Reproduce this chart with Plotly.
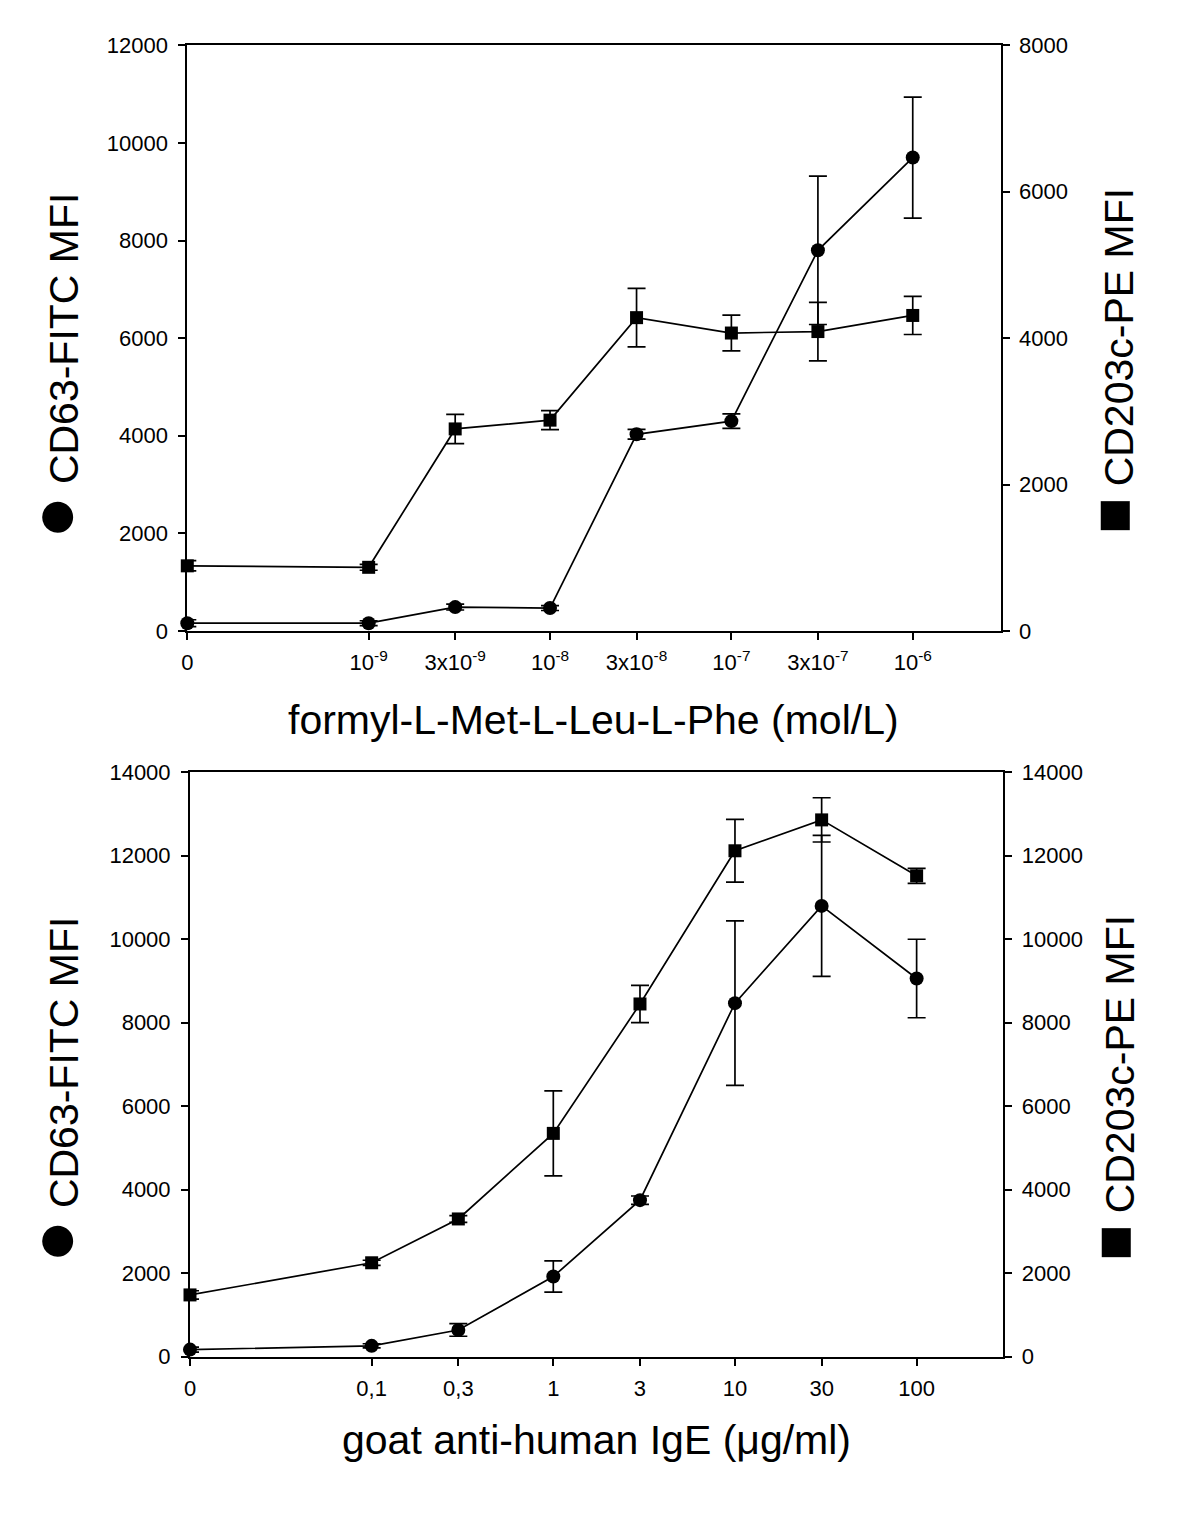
import math
import plotly.graph_objects as go

# ---------------- data ----------------
fmlp_conc = [0, 1e-9, 3e-9, 1e-8, 3e-8, 1e-7, 3e-7, 1e-6]
fmlp_ticktext = ["0", "10<sup>-9</sup>", "3x10<sup>-9</sup>", "10<sup>-8</sup>",
                 "3x10<sup>-8</sup>", "10<sup>-7</sup>", "3x10<sup>-7</sup>", "10<sup>-6</sup>"]
fmlp_cd63 = [160, 160, 490, 470, 4030, 4300, 7800, 9700]
fmlp_cd63_err = [70, 50, 60, 50, 100, 150, 1520, 1240]
fmlp_cd203c = [890, 870, 2760, 2880, 4280, 4070, 4090, 4310]
fmlp_cd203c_err = [70, 40, 200, 130, 400, 245, 400, 260]

ige_conc = [0, 0.1, 0.3, 1, 3, 10, 30, 100]
ige_ticktext = ["0", "0,1", "0,3", "1", "3", "10", "30", "100"]
ige_cd63 = [170, 260, 640, 1920, 3750, 8470, 10800, 9060]
ige_cd63_err = [60, 50, 150, 375, 100, 1970, 1690, 940]
ige_cd203c = [1480, 2250, 3300, 5350, 8450, 12120, 12860, 11520]
ige_cd203c_err = [100, 60, 80, 1020, 445, 750, 530, 180]

# position used to show the "0" concentration on the log axis
fmlp_zero_pos = 1e-10
ige_zero_pos = 1e-2

FONT = "Liberation Sans, Arial, sans-serif"


def xpos(conc, zero_pos):
    return [zero_pos if c == 0 else c for c in conc]


fmlp_x = xpos(fmlp_conc, fmlp_zero_pos)
ige_x = xpos(ige_conc, ige_zero_pos)

fig = go.Figure()


def add_series(x, y, err, xaxis, yaxis, symbol, size):
    fig.add_trace(go.Scatter(
        x=x, y=y, xaxis=xaxis, yaxis=yaxis, mode="lines+markers",
        line=dict(color="black", width=1.7),
        marker=dict(symbol=symbol, size=size, color="black"),
        error_y=dict(type="data", array=err, visible=True, color="black",
                     thickness=1.7, width=9),
        showlegend=False, cliponaxis=False,
    ))


add_series(fmlp_x, fmlp_cd63, fmlp_cd63_err, "x", "y", "circle", 14)
add_series(fmlp_x, fmlp_cd203c, fmlp_cd203c_err, "x", "y2", "square", 13)
add_series(ige_x, ige_cd63, ige_cd63_err, "x2", "y3", "circle", 14)
add_series(ige_x, ige_cd203c, ige_cd203c_err, "x2", "y4", "square", 13)

W, H = 1200, 1519

tickfont = dict(family=FONT, size=22, color="black")
common_axis = dict(showline=True, linecolor="black", linewidth=2, ticks="outside",
                   ticklen=7, tickwidth=1.5, tickcolor="black", showgrid=False,
                   zeroline=False, tickfont=tickfont, automargin=False)

fig.update_layout(
    width=W, height=H, margin=dict(l=0, r=0, t=0, b=0),
    paper_bgcolor="white", plot_bgcolor="white",
    xaxis=dict(domain=[187.3 / W, 1000.7 / W], anchor="y", type="log",
               range=[math.log10(fmlp_zero_pos), -5.515],
               tickvals=fmlp_x, ticktext=fmlp_ticktext, mirror=True,
               ticklabelstandoff=4, **common_axis),
    yaxis=dict(domain=[1 - 631 / H, 1 - 45.3 / H], anchor="x", range=[0, 12000],
               dtick=2000, tickformat="d", ticklabelstandoff=6, **common_axis),
    yaxis2=dict(domain=[1 - 631 / H, 1 - 45.3 / H], anchor="x", overlaying="y",
                side="right", range=[0, 8000], dtick=2000, tickformat="d",
                ticklabelstandoff=5, **common_axis),
    xaxis2=dict(domain=[190 / W, 1003.3 / W], anchor="y3", type="log",
                range=[math.log10(ige_zero_pos), math.log10(300)],
                tickvals=ige_x, ticktext=ige_ticktext, mirror=True,
                ticklabelstandoff=4, **common_axis),
    yaxis3=dict(domain=[1 - 1356.7 / H, 1 - 772.3 / H], anchor="x2", range=[0, 14000],
                dtick=2000, tickformat="d", ticklabelstandoff=6, **common_axis),
    yaxis4=dict(domain=[1 - 1356.7 / H, 1 - 772.3 / H], anchor="x2", overlaying="y3",
                side="right", range=[0, 14000], dtick=2000, tickformat="d",
                ticklabelstandoff=5, **common_axis),
)

title_font = dict(family=FONT, size=41, color="black")
ann = []
# x-axis titles
ann.append(dict(text="formyl-L-Met-L-Leu-L-Phe (mol/L)", x=593.5 / W, y=1 - 720 / H,
                xref="paper", yref="paper", showarrow=False, font=title_font,
                xanchor="center", yanchor="middle"))
ann.append(dict(text="goat anti-human IgE (μg/ml)", x=596.5 / W, y=1 - 1440 / H,
                xref="paper", yref="paper", showarrow=False, font=title_font,
                xanchor="center", yanchor="middle"))
# y-axis titles
left_title = "<span style='font-size:72px'>●</span> CD63-FITC MFI"
right_title = "<span style='font-size:60px'>■</span> CD203c-PE MFI"
for yc in (366, 1090):
    ann.append(dict(text=left_title, x=53 / W, y=1 - yc / H, xref="paper", yref="paper",
                    showarrow=False, font=title_font, textangle=-90,
                    xanchor="center", yanchor="middle"))
for yc in (361, 1088):
    ann.append(dict(text=right_title, x=1113 / W, y=1 - yc / H, xref="paper", yref="paper",
                    showarrow=False, font=title_font, textangle=-90,
                    xanchor="center", yanchor="middle"))
fig.update_layout(annotations=ann)

fig.write_html("out.html", config={"displayModeBar": False},
               post_script="document.body.style.margin='0';document.body.style.overflow='hidden';")
